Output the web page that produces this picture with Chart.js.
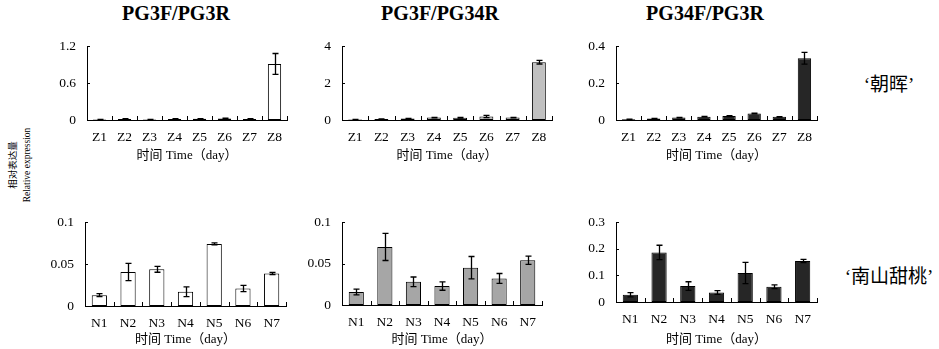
<!DOCTYPE html>
<html><head><meta charset="utf-8">
<script src="https://cdn.jsdelivr.net/npm/chart.js@4/dist/chart.umd.min.js"></script>
<style>
html,body{margin:0;padding:0;background:#fff;overflow:hidden;width:939px;height:349px;position:relative;}
canvas{position:absolute;}
.t{position:absolute;font-family:'Liberation Serif','Noto Sans CJK SC',serif;color:#000;white-space:nowrap;text-align:center;line-height:1;}
</style></head><body>
<div class="t" style="left:76px;top:3px;width:200px;font-size:20px;font-weight:bold;">PG3F/PG3R</div>
<div class="t" style="left:340px;top:3px;width:200px;font-size:20px;font-weight:bold;">PG3F/PG34R</div>
<div class="t" style="left:605px;top:3px;width:200px;font-size:20px;font-weight:bold;">PG34F/PG3R</div>
<div class="t" style="left:829px;top:75px;width:120px;font-size:19px;">‘朝晖’</div>
<div class="t" style="left:819px;top:267px;width:140px;font-size:19px;">‘南山甜桃’</div>
<div class="t" style="left:-50px;top:151px;width:140px;height:28px;font-size:9.5px;line-height:14px;transform:rotate(-90deg);">相对表达量<br>Relative expression</div>
<script>
// ---- data ----
const zCategories = ['Z1','Z2','Z3','Z4','Z5','Z6','Z7','Z8'];
const nCategories = ['N1','N2','N3','N4','N5','N6','N7'];

const zhaohuiPG3F_PG3R      = [0.008, 0.018, 0.008, 0.018, 0.02, 0.025, 0.018, 0.91];
const zhaohuiPG3F_PG3R_err  = [0.002, 0.003, 0.002, 0.003, 0.003, 0.005, 0.003, 0.17];
const zhaohuiPG3F_PG34R     = [0.03, 0.05, 0.08, 0.13, 0.12, 0.19, 0.13, 3.13];
const zhaohuiPG3F_PG34R_err = [0.005, 0.008, 0.01, 0.01, 0.015, 0.06, 0.01, 0.1];
const zhaohuiPG34F_PG3R     = [0.004, 0.008, 0.013, 0.018, 0.021, 0.035, 0.017, 0.334];
const zhaohuiPG34F_PG3R_err = [0.001, 0.001, 0.001, 0.001, 0.002, 0.002, 0.001, 0.032];

const nanshanPG3F_PG3R      = [0.0129, 0.0405, 0.0437, 0.017, 0.074, 0.0208, 0.0387];
const nanshanPG3F_PG3R_err  = [0.0018, 0.0102, 0.0035, 0.0058, 0.0012, 0.0037, 0.0012];
const nanshanPG3F_PG34R     = [0.0156, 0.070, 0.028, 0.0228, 0.045, 0.032, 0.054];
const nanshanPG3F_PG34R_err = [0.0035, 0.0163, 0.0058, 0.005, 0.0135, 0.006, 0.005];
const nanshanPG34F_PG3R     = [0.027, 0.186, 0.060, 0.036, 0.109, 0.057, 0.154];
const nanshanPG34F_PG3R_err = [0.008, 0.027, 0.016, 0.007, 0.040, 0.007, 0.006];

const yTicksA = [0, 0.6, 1.2];   const yLabelsA = ['0','0.6','1.2'];
const yTicksB = [0, 2, 4];       const yLabelsB = ['0','2','4'];
const yTicksC = [0, 0.2, 0.4];   const yLabelsC = ['0','0.2','0.4'];
const yTicksD = [0, 0.05, 0.1];  const yLabelsD = ['0','0.05','0.1'];
const yTicksE = [0, 0.1, 0.2, 0.3]; const yLabelsE = ['0','0.1','0.2','0.3'];

const xTitle = '时间 Time（day）';

// ---- layout / style ----
const FONT = "'Liberation Serif','Noto Sans CJK SC',serif";
const Y_W = 60, PAD_T = 10, PAD_R = 8;

const panels = [
  {cats:zCategories, values:zhaohuiPG3F_PG3R, errors:zhaohuiPG3F_PG3R_err, ticks:yTicksA, labels:yLabelsA, color:'#ffffff', L:87, R:287, T:37, B:120, xh:45, tpb:2},
  {cats:zCategories, values:zhaohuiPG3F_PG34R, errors:zhaohuiPG3F_PG34R_err, ticks:yTicksB, labels:yLabelsB, color:'#c0c0c0', L:342, R:552, T:37, B:120, xh:45, tpb:2},
  {cats:zCategories, values:zhaohuiPG34F_PG3R, errors:zhaohuiPG34F_PG3R_err, ticks:yTicksC, labels:yLabelsC, color:'#262626', L:616, R:817, T:37, B:120, xh:45, tpb:2},
  {cats:nCategories, values:nanshanPG3F_PG3R, errors:nanshanPG3F_PG3R_err, ticks:yTicksD, labels:yLabelsD, color:'#ffffff', L:85, R:286, T:213, B:306, xh:42, tpb:1},
  {cats:nCategories, values:nanshanPG3F_PG34R, errors:nanshanPG3F_PG34R_err, ticks:yTicksD, labels:yLabelsD, color:'#a6a6a6', L:342, R:542, T:213, B:305, xh:43, tpb:1},
  {cats:nCategories, values:nanshanPG34F_PG3R, errors:nanshanPG34F_PG3R_err, ticks:yTicksE, labels:yLabelsE, color:'#262626', L:616, R:817, T:213, B:302, xh:46, tpb:1}
];

const inwardTicks = {
  id:'inwardTicks',
  afterDraw(chart){
    const ctx = chart.ctx, a = chart.chartArea, xs = chart.scales.x, ys = chart.scales.y;
    ctx.save(); ctx.strokeStyle = '#000'; ctx.lineWidth = 1;
    ys.ticks.forEach(t => {
      const y = Math.round(ys.getPixelForValue(t.value)) + 0.5;
      ctx.beginPath(); ctx.moveTo(a.left, y); ctx.lineTo(a.left + 3, y); ctx.stroke();
    });
    const n = chart.data.labels.length;
    const half = (xs.getPixelForValue(1) - xs.getPixelForValue(0)) / 2;
    for (let i = 1; i <= n; i++) {
      const x = Math.round(xs.getPixelForValue(i - 1) + half) + 0.5;
      ctx.beginPath(); ctx.moveTo(x, a.bottom); ctx.lineTo(x, a.bottom - 4); ctx.stroke();
    }
    ctx.restore();
  }
};

const errorBars = {
  id:'errorBars',
  afterDatasetsDraw(chart){
    const ctx = chart.ctx, xs = chart.scales.x, ys = chart.scales.y;
    const ds = chart.data.datasets[0];
    ctx.save(); ctx.strokeStyle = '#000'; ctx.lineWidth = 1.3;
    ds.data.forEach((v, i) => {
      const e = ds.errors[i];
      const x = Math.round(xs.getPixelForValue(i)) + 0.5;
      const yt = ys.getPixelForValue(v + e), yb = ys.getPixelForValue(Math.max(0, v - e));
      ctx.beginPath();
      ctx.moveTo(x, yt); ctx.lineTo(x, yb);
      ctx.moveTo(x - 3, yt); ctx.lineTo(x + 3, yt);
      ctx.moveTo(x - 3, yb); ctx.lineTo(x + 3, yb);
      ctx.stroke();
    });
    ctx.restore();
  }
};

panels.forEach(cfg => {
  const c = document.createElement('canvas');
  const left = cfg.L - Y_W, top = cfg.T - PAD_T;
  const width = cfg.R - cfg.L + Y_W + PAD_R, height = cfg.B - cfg.T + PAD_T + cfg.xh;
  c.width = width; c.height = height;
  c.style.left = left + 'px'; c.style.top = top + 'px';
  c.style.width = width + 'px'; c.style.height = height + 'px';
  document.body.appendChild(c);
  new Chart(c, {
    type:'bar',
    data:{labels:cfg.cats, datasets:[{data:cfg.values, errors:cfg.errors, backgroundColor:cfg.color, borderColor:'#000', borderWidth:1, borderSkipped:false, barPercentage:0.53, categoryPercentage:1}]},
    options:{
      responsive:false, animation:false, devicePixelRatio:1,
      layout:{padding:{top:PAD_T, right:PAD_R, left:0, bottom:0}},
      plugins:{legend:{display:false}, tooltip:{enabled:false}, title:{display:false}},
      scales:{
        x:{
          grid:{display:false, drawTicks:false},
          border:{display:true, color:'#000', width:1},
          ticks:{color:'#000', font:{family:FONT, size:13.5}, padding:9, maxRotation:0, autoSkip:false},
          title:{display:true, text:xTitle, color:'#000', font:{family:FONT, size:13}, padding:{top:0, bottom:cfg.tpb}},
          afterFit:(s) => { s.height = cfg.xh; }
        },
        y:{
          min:0, max:cfg.ticks[cfg.ticks.length - 1],
          grid:{display:false, drawTicks:false},
          border:{display:true, color:'#000', width:1},
          ticks:{color:'#000', font:{family:FONT, size:13.5}, padding:11, callback:(v, i) => cfg.labels[i]},
          afterBuildTicks:(s) => { s.ticks = cfg.ticks.map(v => ({value:v})); },
          afterFit:(s) => { s.width = Y_W; }
        }
      }
    },
    plugins:[inwardTicks, errorBars]
  });
});
</script>
</body></html>
